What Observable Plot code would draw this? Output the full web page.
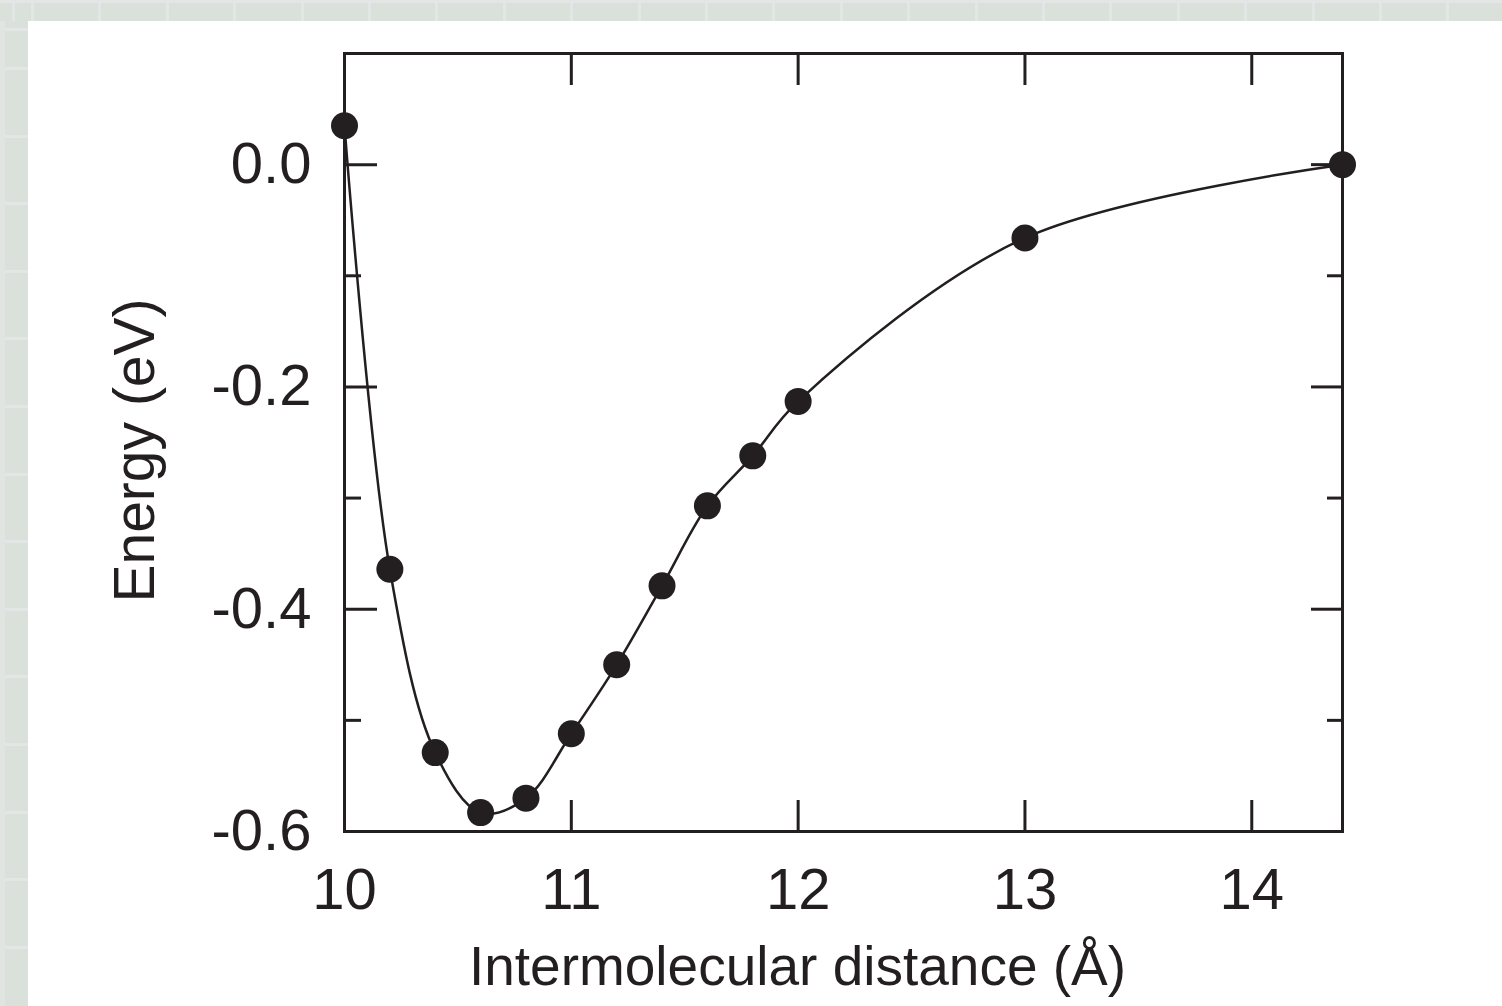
<!DOCTYPE html>
<html>
<head>
<meta charset="utf-8">
<script src="https://cdn.jsdelivr.net/npm/d3@7"></script>
<script src="https://cdn.jsdelivr.net/npm/@observablehq/plot@0.6"></script>
<style>
  html, body { margin: 0; padding: 0; }
  body { width: 1502px; height: 1006px; overflow: hidden; position: relative; background: #d9e1da; }
  #topstrip { position: absolute; left: 0; top: 0; width: 1502px; height: 21px;
    background: linear-gradient(to bottom, #e3e6e5 0 3px, transparent 3px),
      repeating-linear-gradient(to right, #e2e6e4 0 3px, #d9e1da 3px 67.4px);
    background-position: 0 0, 31px 0; }
  #leftstrip { position: absolute; left: 0; top: 21px; width: 28px; height: 985px;
    background: linear-gradient(to right, #e0e5e1 0 5px, transparent 5px),
      repeating-linear-gradient(to bottom, #e2e6e4 0 3px, #d9e1da 3px 67.6px);
    background-position: 0 0, 0 46px; }
  #panel { position: absolute; left: 28px; top: 21px; right: 0; bottom: 0; background: #ffffff; }
  #chart { position: absolute; left: 0; top: 0; }
</style>
</head>
<body>
<div id="topstrip"></div>
<div id="leftstrip"></div>
<div id="panel"></div>
<div id="chart"></div>
<script>
const distance = [10.0, 10.2, 10.4, 10.6, 10.8, 11.0, 11.2, 11.4, 11.6, 11.8, 12.0, 13.0, 14.4];
const energy = [0.035, -0.364, -0.529, -0.583, -0.570, -0.512, -0.450, -0.379, -0.307, -0.262, -0.213, -0.066, 0.0];
const xTickLabels = [10, 11, 12, 13, 14];
const xTicks = [11, 12, 13, 14];
const yTickLabels = [-0.6, -0.4, -0.2, 0.0];
const yMajorTicks = [-0.6, -0.4, -0.2, 0.0];
const yMinorTicks = [-0.5, -0.3, -0.1, 0.1];
const xTitle = "Intermolecular distance (Å)";
const yTitle = "Energy (eV)";

const data = distance.map((d, i) => ({distance: d, energy: energy[i]}));
const ink = "#231f20";

const chart = Plot.plot({
  width: 1502,
  height: 1006,
  marginLeft: 344,
  marginRight: 160,
  marginTop: 53,
  marginBottom: 175,
  x: {domain: [10, 14.4]},
  y: {domain: [-0.6, 0.1]},
  style: {background: "transparent", fontFamily: "'Liberation Sans', Arial, sans-serif", color: ink, overflow: "visible"},
  marks: [
    Plot.line(data, {x: "distance", y: "energy", curve: "catmull-rom", stroke: ink, strokeWidth: 2.5}),
    Plot.frame({stroke: ink, strokeWidth: 3}),
    Plot.axisX(xTicks, {anchor: "bottom", tickSize: -31, strokeWidth: 3, stroke: ink, fill: "none", label: null}),
    Plot.axisX(xTicks, {anchor: "top", tickSize: -31, strokeWidth: 3, stroke: ink, fill: "none", label: null}),
    Plot.axisX(xTickLabels, {anchor: "bottom", tickSize: 0, tickPadding: 36, fontSize: 58, fill: ink, label: null, tickFormat: d => String(d)}),
    Plot.axisY(yMajorTicks, {anchor: "left", tickSize: -33, strokeWidth: 3, stroke: ink, fill: "none", label: null}),
    Plot.axisY(yMajorTicks, {anchor: "right", tickSize: -32, strokeWidth: 3, stroke: ink, fill: "none", label: null}),
    Plot.axisY(yMinorTicks, {anchor: "left", tickSize: -17, strokeWidth: 3, stroke: ink, fill: "none", label: null}),
    Plot.axisY(yMinorTicks, {anchor: "right", tickSize: -16, strokeWidth: 3, stroke: ink, fill: "none", label: null}),
    Plot.axisY(yTickLabels, {anchor: "left", tickSize: 0, tickPadding: 33, fontSize: 58, fill: ink, label: null, tickFormat: d => d.toFixed(1)}),
    Plot.dot(data, {x: "distance", y: "energy", r: 13.5, fill: ink, stroke: "none"}),
    Plot.text([xTitle], {frameAnchor: "bottom", text: d => d, lineAnchor: "top", dy: 114, dx: -46, fontSize: 55, fill: ink}),
    Plot.text([yTitle], {frameAnchor: "left", text: d => d, rotate: -90, textAnchor: "middle", lineAnchor: "top", dx: -231, dy: 8, fontSize: 57, fill: ink})
  ]
});
document.getElementById("chart").appendChild(chart);
</script>
</body>
</html>
